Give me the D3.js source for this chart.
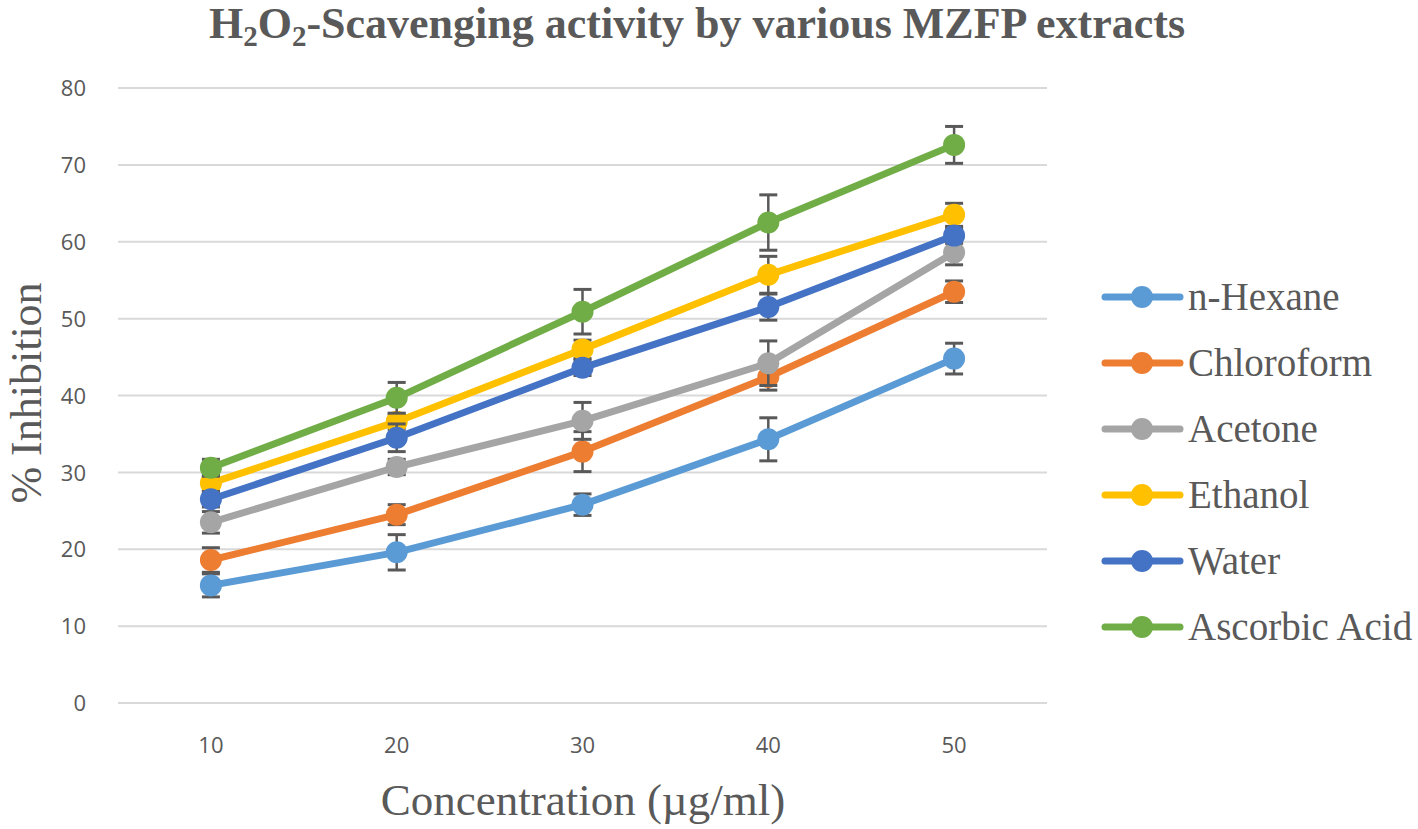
<!DOCTYPE html>
<html><head><meta charset="utf-8">
<script src="https://cdn.jsdelivr.net/npm/d3@7"></script>
<style>body{margin:0;background:#fff}</style>
</head><body>
<svg id="c" width="1418" height="829"></svg>
<script>
const categories = ["10","20","30","40","50"];
const yTicks = [0,10,20,30,40,50,60,70,80];
const seriesNames = ["n-Hexane","Chloroform","Acetone","Ethanol","Water","Ascorbic Acid"];
const colors = ["#5B9BD5","#ED7D31","#A5A5A5","#FFC000","#4472C4","#70AD47"];
const nHexane      = [15.3, 19.6, 25.8, 34.3, 44.8];
const chloroform   = [18.6, 24.5, 32.7, 42.4, 53.5];
const acetone      = [23.5, 30.7, 36.7, 44.2, 58.6];
const ethanol      = [28.6, 36.6, 46.0, 55.7, 63.5];
const water        = [26.5, 34.5, 43.6, 51.5, 60.8];
const ascorbicAcid = [30.6, 39.7, 50.9, 62.5, 72.6];
const errHexane    = [1.5, 2.3, 1.4, 2.8, 2.0];
const errChloro    = [1.6, 1.3, 2.6, 1.7, 1.4];
const errAcetone   = [1.4, 1.0, 2.4, 2.9, 1.6];
const errEthanol   = [1.0, 1.0, 1.2, 2.4, 1.5];
const errWater     = [1.0, 1.8, 1.0, 1.7, 1.0];
const errAscorbic  = [1.1, 2.0, 2.9, 3.6, 2.4];

const values = [nHexane, chloroform, acetone, ethanol, water, ascorbicAcid];
const errors = [errHexane, errChloro, errAcetone, errEthanol, errWater, errAscorbic];

const svg = d3.select("#c");
const pLeft = 118, pRight = 1047, pTop = 88, pBottom = 703;
const x = d3.scaleBand().domain(categories).range([pLeft, pRight]);
const y = d3.scaleLinear().domain([0, 80]).range([pBottom, pTop]);
const cx = c => x(c) + x.bandwidth() / 2;

// gridlines
svg.append("g").selectAll("line").data(yTicks).join("line")
  .attr("x1", pLeft).attr("x2", pRight)
  .attr("y1", d => y(d)).attr("y2", d => y(d))
  .attr("stroke", "#D9D9D9").attr("stroke-width", 2);

// y axis labels
const yAxis = d3.axisLeft(y).tickValues(yTicks).tickSize(0).tickPadding(0);
const gy = svg.append("g").attr("transform", `translate(${pLeft - 32},0)`).call(yAxis);
gy.select(".domain").remove();
gy.selectAll("text").attr("font-family", "'Open Sans', 'Liberation Sans', sans-serif")
  .attr("font-size", 22).attr("fill", "#595959").attr("dy", "0.35em");

// x axis labels
const xAxis = d3.axisBottom(x).tickSize(0).tickPadding(0);
const gx = svg.append("g").attr("transform", `translate(0,${pBottom + 34})`).call(xAxis);
gx.select(".domain").remove();
gx.selectAll("text").attr("font-family", "'Open Sans', 'Liberation Sans', sans-serif")
  .attr("font-size", 22).attr("fill", "#595959").attr("dy", "0.71em");

const line = d3.line().x((d, i) => cx(categories[i])).y(d => y(d));

values.forEach((vals, s) => {
  const g = svg.append("g");
  const eb = g.append("g");
  vals.forEach((v, i) => {
    const e = errors[s][i];
    const px = cx(categories[i]);
    eb.append("line").attr("x1", px).attr("x2", px).attr("y1", y(v + e)).attr("y2", y(v - e))
      .attr("stroke", "#595959").attr("stroke-width", 2.5);
    [v + e, v - e].forEach(t => {
      eb.append("line").attr("x1", px - 9).attr("x2", px + 9).attr("y1", y(t)).attr("y2", y(t))
        .attr("stroke", "#595959").attr("stroke-width", 3);
    });
  });
  g.append("path").datum(vals).attr("d", line).attr("fill", "none")
    .attr("stroke", colors[s]).attr("stroke-width", 7).attr("stroke-linecap", "round").attr("stroke-linejoin", "round");
  g.selectAll("circle").data(vals).join("circle")
    .attr("cx", (d, i) => cx(categories[i])).attr("cy", d => y(d)).attr("r", 11)
    .attr("fill", colors[s]);
});

// legend
const lg = svg.append("g");
seriesNames.forEach((n, i) => {
  const ly = 297 + i * 66;
  lg.append("line").attr("x1", 1105).attr("x2", 1180).attr("y1", ly).attr("y2", ly)
    .attr("stroke", colors[i]).attr("stroke-width", 7).attr("stroke-linecap", "round");
  lg.append("circle").attr("cx", 1142).attr("cy", ly).attr("r", 11).attr("fill", colors[i]);
  lg.append("text").attr("x", 1188).attr("y", ly + 13).text(n)
    .attr("font-family", "'Liberation Serif', 'Times New Roman', serif").attr("font-size", 39).attr("fill", "#595959");
});

// title
const title = svg.append("text").attr("x", 697).attr("y", 38).attr("text-anchor", "middle")
  .attr("font-family", "'Liberation Serif', 'Times New Roman', serif").attr("font-weight", "bold")
  .attr("font-size", 44).attr("fill", "#595959");
title.append("tspan").text("H");
title.append("tspan").text("2").attr("font-size", 29).attr("dy", 8);
title.append("tspan").text("O").attr("dy", -8);
title.append("tspan").text("2").attr("font-size", 29).attr("dy", 8);
title.append("tspan").text("-Scavenging activity by various MZFP extracts").attr("dy", -8);

// axis titles
svg.append("text").attr("x", 583).attr("y", 815).attr("text-anchor", "middle")
  .attr("font-family", "'Liberation Serif', 'Times New Roman', serif").attr("font-size", 45)
  .attr("fill", "#595959").text("Concentration (µg/ml)");
svg.append("text").attr("transform", "translate(41,393) rotate(-90)").attr("text-anchor", "middle")
  .attr("font-family", "'Liberation Serif', 'Times New Roman', serif").attr("font-size", 44)
  .attr("fill", "#595959").text("% Inhibition");
</script>
</body></html>
